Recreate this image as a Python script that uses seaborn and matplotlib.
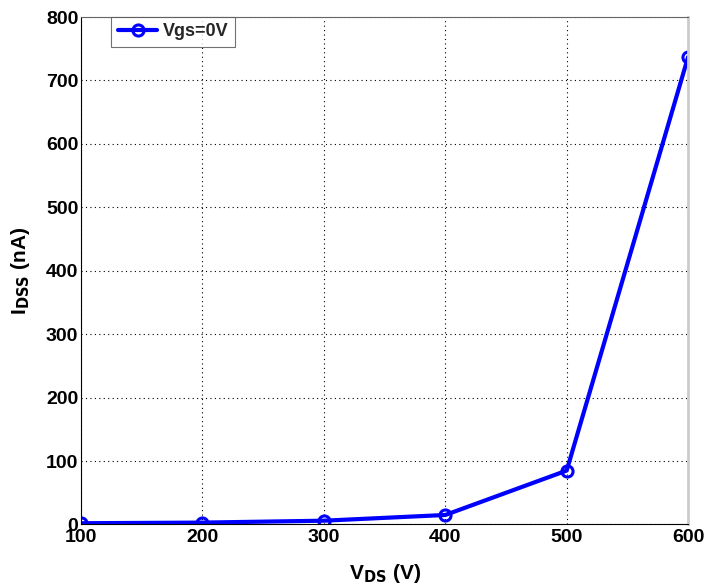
import pandas as pd
import matplotlib.pyplot as plt
import seaborn as sns

# data
vds = [100, 200, 300, 400, 500, 600]
idss = [2, 3, 6, 15, 85, 737]

sns.set_theme(style="whitegrid")
plt.rcParams['font.family'] = ['Liberation Sans', 'DejaVu Sans']
plt.rcParams['font.weight'] = 'bold'

df = pd.DataFrame({'VDS': vds, 'IDSS': idss})

fig, ax = plt.subplots(figsize=(7.05, 5.88), dpi=100)
sns.lineplot(data=df, x='VDS', y='IDSS', ax=ax, color='blue', linewidth=3,
             marker='o', markersize=8, markerfacecolor='none',
             markeredgecolor='blue', markeredgewidth=2.2, label='Vgs=0V')

ax.set_xlim(100, 600)
ax.set_ylim(0, 800)
ax.set_xticks(range(100, 601, 100))
ax.set_yticks(range(0, 801, 100))
ax.grid(True, color='black', linestyle=(0, (1, 3)), linewidth=0.8)
ax.set_facecolor('white')
for s in ax.spines.values():
    s.set_visible(True)
    s.set_color('black')
    s.set_linewidth(0.8)
ax.spines['top'].set_color('0.4')
ax.spines['right'].set_color('0.8')
ax.spines['right'].set_linewidth(2)
ax.tick_params(axis='both', labelsize=14, colors='black', direction='in', length=4)
ax.tick_params(axis='y', pad=2)
ax.tick_params(axis='x', pad=3)
for lab in ax.get_xticklabels() + ax.get_yticklabels():
    lab.set_fontweight('bold')

ax.set_xlabel('V$_{\\mathbf{DS}}$ (V)', fontsize=15, fontweight='bold', color='black',
              labelpad=12)
ax.set_ylabel('I$_{\\mathbf{DSS}}$ (nA)', fontsize=15, fontweight='bold', color='black',
              labelpad=10)

leg = ax.legend(loc='upper left', bbox_to_anchor=(0.05, 1.0), fontsize=13,
                frameon=True, fancybox=False, edgecolor='0.3', borderaxespad=0,
                handlelength=2.2, handletextpad=0.3, borderpad=0.35)
leg.get_frame().set_linewidth(0.8)
for t in leg.get_texts():
    t.set_fontweight('bold')

plt.subplots_adjust(left=0.115, right=0.976, top=0.971, bottom=0.108)
plt.savefig('out.png', dpi=100)
